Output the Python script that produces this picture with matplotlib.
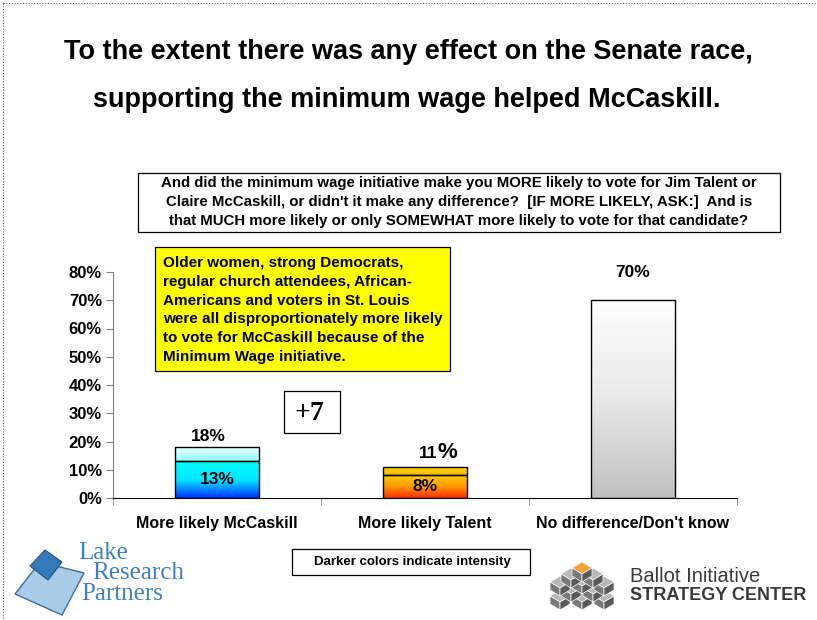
import numpy as np
import matplotlib
matplotlib.use('Agg')
import matplotlib.pyplot as plt
from matplotlib.patches import Rectangle, Polygon
from matplotlib.colors import LinearSegmentedColormap

plt.rcParams['font.family'] = ['Liberation Sans', 'DejaVu Sans']

# data
categories = ['More likely McCaskill', 'More likely Talent', "No difference/Don't know"]
much_likely = [13, 8, 0]
total_likely = [18, 11, 70]
yticks = [0, 10, 20, 30, 40, 50, 60, 70, 80]

W, H = 817, 620
fig = plt.figure(figsize=(W / 100, H / 100), dpi=100)


def fx(px):
    return px / W


def fy(py):
    return 1 - py / H


# dotted page border (top and left)
fig.add_artist(plt.Line2D([fx(3), 1], [fy(3), fy(3)], transform=fig.transFigure,
                          color='#555555', lw=0.8, ls=(0, (1, 1.5))))
fig.add_artist(plt.Line2D([fx(3), fx(3)], [fy(3), 0], transform=fig.transFigure,
                          color='#555555', lw=0.8, ls=(0, (1, 1.5))))

# title
fig.text(fx(408), fy(52), 'To the extent there was any effect on the Senate race,',
         ha='center', va='center', fontsize=19.5, fontweight='bold')
fig.text(fx(407), fy(100), 'supporting the minimum wage helped McCaskill.',
         ha='center', va='center', fontsize=19.5, fontweight='bold')

# question box
fig.add_artist(Rectangle((fx(138), fy(232)), fx(780) - fx(138), fy(173) - fy(232),
                         transform=fig.transFigure, fc='white', ec='black', lw=0.9))
fig.text(fx(459), fy(202),
         'And did the minimum wage initiative make you MORE likely to vote for Jim Talent or\n'
         "Claire McCaskill, or didn't it make any difference?  [IF MORE LIKELY, ASK:]  And is\n"
         'that MUCH more likely or only SOMEWHAT more likely to vote for that candidate?',
         ha='center', va='center', fontsize=10.8, fontweight='bold', linespacing=1.5)

# chart axes
ax = fig.add_axes([fx(113), fy(498), fx(737) - fx(113), fy(272) - fy(498)])
x = np.arange(len(categories))
width = 0.4

cmap_blue = LinearSegmentedColormap.from_list('b', ['#0030ff', '#00e8ff', '#00ffff'])
cmap_lcyan = LinearSegmentedColormap.from_list('lc', ['#90ffff', '#f0ffff'])
cmap_red = LinearSegmentedColormap.from_list('r', ['#ff2a00', '#ff9900', '#ffcc00'])
cmap_gold = LinearSegmentedColormap.from_list('g', ['#ffc000', '#ffd000'])
cmap_grey = LinearSegmentedColormap.from_list('gr', ['#c0c0c0', '#e8e8e8', '#fefefe'])

grad = np.linspace(0, 1, 256).reshape(-1, 1)


def gradient_bar(xc, bottom, height, cmap):
    bar = ax.bar(xc, height, width, bottom=bottom, facecolor='none',
                 edgecolor='black', linewidth=1.0, zorder=3)[0]
    im = ax.imshow(grad, cmap=cmap, origin='lower', aspect='auto',
                   extent=(xc - width / 2, xc + width / 2, bottom, bottom + height),
                   zorder=2)
    im.set_clip_path(bar)


dark_maps = [cmap_blue, cmap_red, None]
light_maps = [cmap_lcyan, cmap_gold, cmap_grey]
for i in range(len(categories)):
    if much_likely[i] > 0:
        gradient_bar(x[i], 0, much_likely[i], dark_maps[i])
    gradient_bar(x[i], much_likely[i], total_likely[i] - much_likely[i], light_maps[i])

ax.set_xlim(-0.5, 2.5)
ax.set_ylim(0, 80)
for s in ['top', 'right']:
    ax.spines[s].set_visible(False)
ax.spines['left'].set_color('#808080')
ax.spines['bottom'].set_color('black')
ax.set_yticks(yticks)
ax.set_yticklabels([f'{v}%' for v in yticks], fontsize=12, fontweight='bold')
ax.tick_params(axis='y', direction='out', length=5, color='#808080', pad=3)
ax.set_xticks(x)
ax.set_xticklabels(categories, fontsize=11.5, fontweight='bold')
ax.tick_params(axis='x', which='major', length=0, pad=13)
ax.set_xticks([-0.5, 0.5, 1.5, 2.5], minor=True)
ax.tick_params(axis='x', which='minor', direction='out', length=5, color='#808080')

# value labels
ax.annotate(f'{total_likely[0]}%', (x[0], total_likely[0]), xytext=(-6, 4.5),
            textcoords='offset points', ha='center', va='baseline',
            fontsize=12.5, fontweight='bold')
ax.annotate(f'{total_likely[1]}', (x[1], total_likely[1]), xytext=(9, 6.5),
            textcoords='offset points', ha='right', va='baseline',
            fontsize=12.5, fontweight='bold')
ax.annotate('%', (x[1], total_likely[1]), xytext=(9, 6.5),
            textcoords='offset points', ha='left', va='baseline',
            fontsize=16, fontweight='bold')
ax.annotate(f'{total_likely[2]}%', (x[2], total_likely[2]), xytext=(0, 17),
            textcoords='offset points', ha='center', va='baseline',
            fontsize=12.5, fontweight='bold')
ax.text(x[0], much_likely[0] / 2, f'{much_likely[0]}%', ha='center', va='center',
        fontsize=12.5, fontweight='bold', zorder=4)
ax.text(x[1], much_likely[1] / 2, f'{much_likely[1]}%', ha='center', va='center',
        fontsize=12.5, fontweight='bold', zorder=4)

# yellow callout
fig.add_artist(Rectangle((fx(155), fy(371)), fx(450) - fx(155), fy(247) - fy(371),
                         transform=fig.transFigure, fc='#ffff00', ec='black', lw=0.9))
fig.text(fx(163), fy(310),
         'Older women, strong Democrats,\n'
         'regular church attendees, African-\n'
         'Americans and voters in St. Louis\n'
         'were all disproportionately more likely\n'
         'to vote for McCaskill because of the\n'
         'Minimum Wage initiative.',
         ha='left', va='center', fontsize=11, fontweight='bold', linespacing=1.45)

# +7 box
fig.add_artist(Rectangle((fx(284), fy(433)), fx(340) - fx(284), fy(391) - fy(433),
                         transform=fig.transFigure, fc='white', ec='black', lw=0.9))
fig.text(fx(309), fy(413), '+7', ha='center', va='center', fontsize=20,
         fontweight='bold', family=['Liberation Serif', 'DejaVu Serif'])

# footnote box
fig.add_artist(Rectangle((fx(292), fy(575)), fx(530) - fx(292), fy(549) - fy(575),
                         transform=fig.transFigure, fc='white', ec='black', lw=0.9))
fig.text(fx(412), fy(562), 'Darker colors indicate intensity', ha='center', va='center',
         fontsize=9.5, fontweight='bold')

# Lake Research Partners logo
fig.add_artist(Polygon([(fx(15), fy(594)), (fx(40), fy(562)), (fx(84), fy(573)), (fx(62), fy(615))],
                       closed=True, transform=fig.transFigure, fc='#a8cbe8', ec='#3d6e9e', lw=1.0))
fig.add_artist(Polygon([(fx(30), fy(566)), (fx(45), fy(550)), (fx(62), fy(562)), (fx(48), fy(580))],
                       closed=True, transform=fig.transFigure, fc='#3479b8', ec='#1f4f86', lw=0.8))
serif = ['Liberation Serif', 'DejaVu Serif']
fig.text(fx(78), fy(553), 'Lake', ha='left', va='center', fontsize=18, color='#3f82bb', family=serif)
fig.text(fx(92), fy(573), 'Research', ha='left', va='center', fontsize=18, color='#3f82bb', family=serif)
fig.text(fx(81), fy(594), 'Partners', ha='left', va='center', fontsize=18, color='#3f82bb', family=serif)


# Ballot Initiative Strategy Center logo
def cube(cx, cy, s, top):
    fig.add_artist(Polygon([(fx(cx - s), fy(cy)), (fx(cx), fy(cy - s * 0.6)), (fx(cx + s), fy(cy)),
                            (fx(cx), fy(cy + s * 0.6))], closed=True, transform=fig.transFigure,
                           fc=top, ec='white', lw=0.5))
    fig.add_artist(Polygon([(fx(cx - s), fy(cy)), (fx(cx), fy(cy + s * 0.6)), (fx(cx), fy(cy + s * 1.4)),
                            (fx(cx - s), fy(cy + s * 0.8))], closed=True, transform=fig.transFigure,
                           fc='#7a7a7a', ec='white', lw=0.5))
    fig.add_artist(Polygon([(fx(cx + s), fy(cy)), (fx(cx), fy(cy + s * 0.6)), (fx(cx), fy(cy + s * 1.4)),
                            (fx(cx + s), fy(cy + s * 0.8))], closed=True, transform=fig.transFigure,
                           fc='#5a5a5a', ec='white', lw=0.5))


for cx, cy in [(560, 596), (582, 596), (604, 596), (571, 588), (593, 588),
               (560, 582), (604, 582), (582, 580), (571, 574), (593, 574)]:
    cube(cx, cy, 10, '#b8b8b8')
cube(582, 568, 10, '#f4a23c')
fig.text(fx(630), fy(577), 'Ballot Initiative', ha='left', va='center', fontsize=14.5, color='#3a3a3a')
fig.text(fx(630), fy(596), 'STRATEGY CENTER', ha='left', va='center', fontsize=13,
         fontweight='bold', color='#3a3a3a')

fig.savefig('out.png', dpi=100)
